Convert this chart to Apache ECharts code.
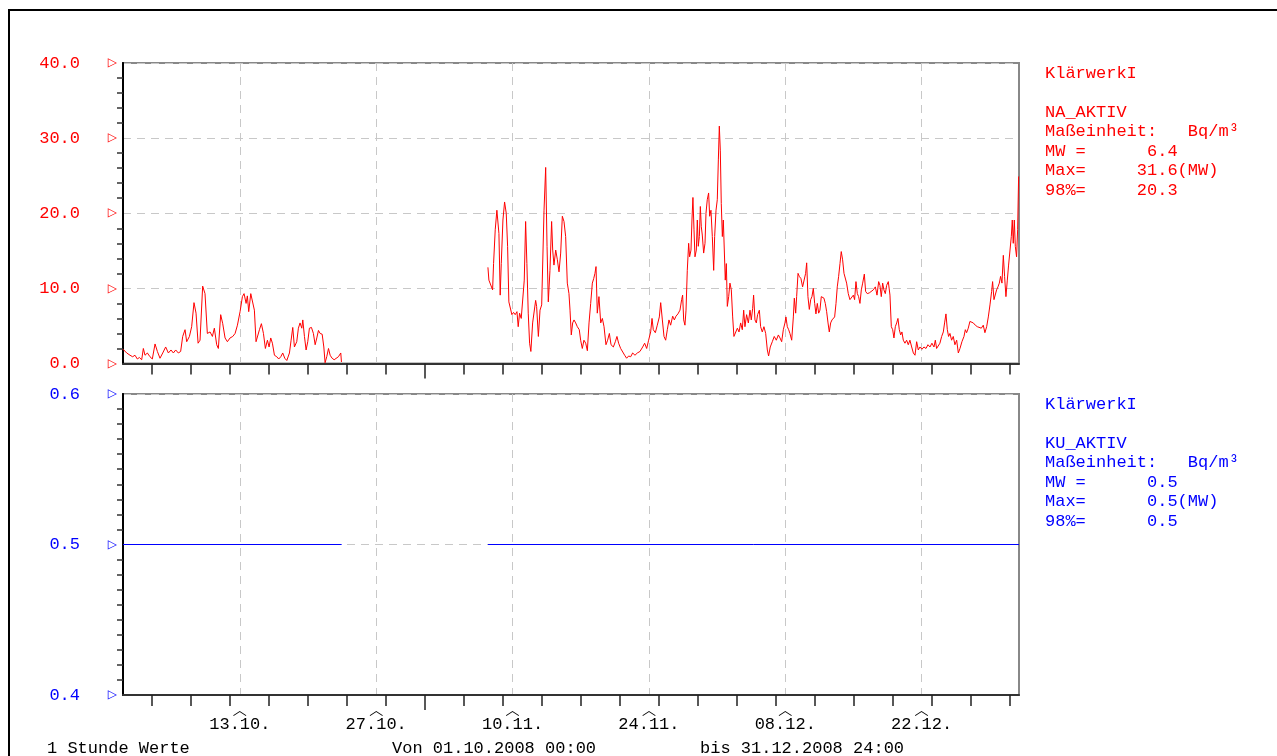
<!DOCTYPE html>
<html><head><meta charset="utf-8">
<script src="https://cdn.jsdelivr.net/npm/echarts@6/dist/echarts.min.js"></script>
<style>html,body{margin:0;padding:0;background:#fff}#c{width:1277px;height:756px}</style>
</head><body><div id="c"></div><script>
// NA_AKTIV hourly values (day offset from 01.10.2008 00:00, Bq/m³)
const naPart1 = [[0.00,1.9],[0.38,1.4],[0.72,1.1],[0.99,0.9],[1.23,1.1],[1.47,0.6],[1.68,0.8],[1.92,0.5],[2.09,2.0],[2.26,1.1],[2.50,1.4],[2.77,0.9],[3.01,0.6],[3.29,2.6],[3.53,1.6],[3.80,0.7],[4.08,1.4],[4.38,2.2],[4.66,1.4],[4.93,1.8],[5.17,1.4],[5.41,1.8],[5.68,1.4],[5.92,1.6],[6.13,3.6],[6.37,4.5],[6.54,2.9],[6.82,3.6],[7.05,4.9],[7.29,8.1],[7.50,6.7],[7.71,2.7],[7.91,3.1],[8.18,10.3],[8.42,9.3],[8.66,4.0],[8.94,4.2],[9.18,3.6],[9.38,4.7],[9.62,2.5],[9.79,2.0],[10.03,6.5],[10.24,5.3],[10.48,3.4],[10.72,2.9],[10.99,3.4],[11.27,3.6],[11.51,4.0],[11.75,5.1],[12.02,6.9],[12.26,8.9],[12.43,9.3],[12.64,8.0],[12.77,9.0],[12.91,6.9],[13.12,9.3],[13.32,9.1],[13.49,7.1],[13.66,2.9],[13.84,2.7],[14.01,4.5],[14.21,5.3],[14.42,4.0],[14.62,2.0],[14.83,3.1],[15.00,2.2],[15.17,3.4],[15.34,2.7],[15.55,1.1],[15.79,0.9],[15.99,0.6],[16.20,0.9],[16.40,1.4],[16.61,0.7],[16.82,0.4],[17.09,1.4],[17.26,3.1],[17.43,4.8],[17.60,2.2],[17.84,2.9],[18.01,4.7],[18.18,5.4],[18.36,4.7],[18.46,5.8],[18.63,3.6],[18.80,1.8],[18.97,2.9],[19.14,4.7],[19.35,4.8],[19.55,4.0],[19.73,2.5],[19.90,3.4],[20.07,4.4],[20.24,4.0],[20.45,3.9],[20.62,2.2],[20.75,0.1],[20.92,0.9],[21.10,2.0],[21.27,1.1],[21.47,0.7],[21.68,0.5],[21.88,0.6],[22.12,0.9],[22.36,1.4],[22.43,0.2]];
const naPart2 = [[37.47,12.8],[37.57,11.1],[37.77,10.9],[37.95,9.8],[38.05,13.3],[38.22,17.8],[38.39,20.4],[38.49,20.2],[38.60,17.3],[38.73,9.1],[38.84,13.3],[39.01,19.1],[39.18,21.5],[39.35,20.0],[39.49,15.6],[39.62,8.2],[39.76,8.0],[39.93,6.5],[40.10,6.8],[40.27,6.5],[40.45,6.9],[40.58,4.9],[40.72,6.7],[40.89,6.0],[41.06,5.8],[41.20,11.1],[41.34,18.9],[41.47,13.3],[41.61,6.7],[41.75,2.7],[41.88,1.6],
[42.06,5.4],[42.37,8.4],[42.47,7.6],[42.65,3.6],[42.82,7.1],[42.99,7.8],[43.09,8.0],[43.23,20.4],[43.40,26.1],[43.54,15.6],[43.67,8.2],[43.84,12.4],[44.01,18.9],[44.12,15.1],[44.25,13.1],[44.43,15.1],[44.60,13.8],[44.77,12.2],[44.94,14.7],[45.11,19.6],[45.28,18.9],[45.45,16.9],[45.62,10.7],[45.79,9.3],[45.90,7.1],[46.03,3.8],[46.17,5.4],[46.31,5.8],[46.48,5.4],[46.65,4.9],[46.85,4.5],[46.99,3.1],[47.16,2.0],[47.33,3.1],[47.51,2.7],[47.68,1.7],[47.85,5.4],[48.02,8.0],[48.19,10.7],[48.33,11.3],[48.46,12.0],[48.57,12.9],[48.70,6.7],[48.87,8.9],[49.05,5.4],[49.22,6.0],[49.39,4.9],[49.59,2.5],[49.76,3.1],[49.94,4.0],[50.11,2.5],[50.35,2.2],[50.55,2.9],[50.72,3.6],[50.89,2.7],[51.10,2.0],[51.30,1.8],[51.51,1.1],[51.71,0.7],[51.92,1.0],[52.13,0.9],[52.33,1.4],[52.57,1.1],[52.81,1.4],[53.08,1.6],[53.36,2.2],[53.56,2.7],[53.77,2.0],[53.97,3.1],[54.18,4.2],[54.32,6.0],[54.45,4.5],[54.66,4.1],[54.86,5.1],[55.07,6.2],[55.21,8.1],[55.38,5.8],[55.55,3.6],[55.72,3.1],[55.89,4.5],[56.06,5.8],[56.23,5.1],[56.44,6.3],[56.61,5.8],[56.78,6.3],[56.98,6.6],[57.19,7.1],[57.36,8.5],[57.46,9.1],[57.57,5.8],[57.70,5.1],[57.81,7.1],[57.94,12.4],[58.08,16.0],[58.18,14.2],[58.32,15.1],[58.42,19.1],[58.52,22.1],[58.63,17.8],[58.73,14.2],[58.87,15.1],[58.97,19.1],[59.07,15.6],[59.18,16.9],[59.28,20.9],[59.38,18.2],[59.48,17.1],[59.62,14.7],[59.76,16.0],[59.86,20.0],[59.99,21.8],[60.13,22.7],[60.24,19.6],[60.37,20.4],[60.51,16.9],[60.65,12.4],[60.75,16.9],[60.89,20.4],[61.02,21.8],[61.13,27.1],[61.23,31.6],[61.33,28.4],[61.43,21.3],[61.54,16.9],[61.64,19.1],[61.74,19.1],[61.84,11.1],[61.95,13.3],[62.05,7.6],[62.19,8.9],[62.32,10.7],[62.46,9.8],[62.60,6.2],[62.73,3.6],[62.91,3.4],[63.08,4.7],[63.25,4.2],[63.42,5.4],[63.59,4.5],[63.73,7.1],[63.86,4.9],[64.03,6.5],[64.21,5.4],[64.38,7.1],[64.51,5.8],[64.65,7.3],[64.75,9.1],[64.89,5.8],[65.03,5.4],[65.16,6.5],[65.34,7.1],[65.47,4.9],[65.64,4.2],[65.81,4.9],[65.99,4.0],[66.16,1.8],[66.29,1.0],[66.46,2.2],[66.67,2.9],[66.87,3.6],[67.08,3.1],[67.29,3.8],[67.46,3.4],[67.63,2.9],[67.80,4.5],[67.97,5.4],[68.07,6.2],[68.21,4.9],[68.35,4.5],[68.48,4.0],[68.66,3.1],[68.83,6.2],[68.93,8.7],[69.07,6.7],[69.17,8.9],[69.31,12.0],[69.44,11.6],[69.61,11.3],[69.78,10.2],[69.96,10.4],[70.09,12.0],[70.20,13.4],[70.33,8.9],[70.47,7.2],[70.61,8.5],[70.74,8.9],[70.88,10.0],[71.02,8.0],[71.15,6.6],[71.29,8.0],[71.43,6.7],[71.56,7.1],[71.70,8.9],[71.84,9.1],[71.97,8.7],[72.11,8.0],[72.25,6.9],[72.39,5.4],[72.52,4.2],[72.66,5.4],[72.80,5.8],[72.93,5.6],[73.07,6.2],[73.21,8.0],[73.34,10.2],[73.48,11.6],[73.62,13.3],[73.75,14.9],[73.89,13.8],[74.03,12.0],[74.16,12.0],[74.30,10.7],[74.47,9.3],[74.64,8.5],[74.81,8.7],[74.99,9.1],[75.12,8.5],[75.26,10.9],[75.40,9.3],[75.53,8.9],[75.67,8.0],[75.81,9.8],[75.95,10.7],[76.12,11.9],[76.25,9.6],[76.42,9.3],[76.63,9.4],[76.83,9.6],[77.04,9.8],[77.25,10.2],[77.42,9.1],[77.59,10.9],[77.72,10.4],[77.86,8.9],[78.00,10.7],[78.13,9.8],[78.27,9.3],[78.41,10.4],[78.58,10.9],[78.75,9.1],[78.89,4.9],[79.03,4.5],[79.16,3.4],[79.30,4.9],[79.44,5.4],[79.57,6.0],[79.71,4.5],[79.85,3.8],[79.98,4.2],[80.12,3.1],[80.29,2.7],[80.46,3.1],[80.63,2.5],[80.80,3.1],[80.98,2.2],[81.15,1.4],[81.32,1.1],[81.49,2.9],[81.66,1.8],[81.83,2.2],[82.04,1.9],[82.24,2.2],[82.45,2.0],[82.65,2.5],[82.86,2.2],[83.06,2.7],[83.27,2.2],[83.41,3.1],[83.54,2.0],[83.71,1.8],[83.88,2.7],[84.06,3.6],[84.23,4.2],[84.36,5.4],[84.50,6.6],[84.64,4.5],[84.77,3.6],[84.91,4.0],[85.08,3.1],[85.25,3.6],[85.42,2.5],[85.60,3.1],[85.77,1.4],[85.94,2.0],[86.14,2.9],[86.35,3.6],[86.49,4.5],[86.62,4.1],[86.79,4.7],[86.96,5.6],[87.14,5.4],[87.31,5.4],[87.51,5.1],[87.72,4.9],[87.92,5.0],[88.13,4.7],[88.33,5.1],[88.50,4.1],[88.68,4.9],[88.85,6.2],[89.02,7.8],[89.19,9.6],[89.29,10.9],[89.43,8.5],[89.57,8.7],[89.70,9.8],[89.84,10.2],[89.98,10.7],[90.11,11.6],[90.25,10.7],[90.39,14.4],[90.52,11.6],[90.66,8.9],[90.80,11.1],[90.93,13.1],[91.07,13.1],[91.21,16.9],[91.31,19.1],[91.41,16.0],[91.52,19.1],[91.62,15.6],[91.75,14.2],[91.86,17.8],[91.96,24.9]];
// KU_AKTIV (constant 0.5 where measured)
const kuPart1 = [[0,0.5],[22.45,0.5]];
const kuPart2 = [[37.47,0.5],[92,0.5]];
// axis definitions
const dayMax = 92;
const tickDays = [3,7,11,15,19,23,27,31,35,39,43,47,51,55,59,63,67,71,75,79,83,87,91];
const longTickDays = [31];
const labelDays = [12,26,40,54,68,82];
const labelTexts = ['13.10.','27.10.','10.11.','24.11.','08.12.','22.12.'];
const naAxis = {min:0, max:40, interval:10, minorSplit:5};
const kuAxis = {min:0.4, max:0.6, interval:0.1, minorSplit:10};
const naLegend = ['KlärwerkI','','NA_AKTIV','Maßeinheit:   Bq/m³','MW =      6.4','Max=     31.6(MW)','98%=     20.3'];
const kuLegend = ['KlärwerkI','','KU_AKTIV','Maßeinheit:   Bq/m³','MW =      0.5','Max=      0.5(MW)','98%=      0.5'];
const footer = ['1 Stunde Werte','Von 01.10.2008 00:00','bis 31.12.2008 24:00'];

const RED = '#ff0000', BLUE = '#0000ff';
const MONO = 'Liberation Mono';
const gridDash = {type:[8,6], color:'#c8c8c8', width:1};

function xAxesFor(g, withLabels) {
  const base = {type:'value', gridIndex:g, position:'bottom', min:0, max:dayMax, axisLabel:{show:false}, splitLine:{show:false}};
  const arr = [
    Object.assign({}, base, {axisLine:{show:true, lineStyle:{color:'#333', width:2}},
      axisTick:{show:true, customValues:tickDays, length:11, lineStyle:{color:'#222', width:1.5}}}),
    Object.assign({}, base, {axisLine:{show:false},
      axisTick:{show:true, customValues:longTickDays, length:15, lineStyle:{color:'#222', width:1.5}}}),
    Object.assign({}, base, {axisLine:{show:false},
      axisTick:{show:false, customValues:labelDays},
      splitLine:{show:true, lineStyle:gridDash},
      axisLabel: withLabels ? {show:true, customValues:labelDays, margin:21, color:'#000', fontFamily:MONO, fontSize:17,
        formatter: v => labelTexts[labelDays.indexOf(Math.round(v))] || ''} : {show:false}})
  ];
  if (withLabels) {
    arr.push(Object.assign({}, base, {axisLine:{show:false}, axisTick:{show:false, customValues:labelDays},
      axisLabel:{show:true, customValues:labelDays, margin:7, color:'#000', fontFamily:'Noto Sans CJK SC', fontSize:14,
        formatter: () => '︿'}}));
  }
  return arr;
}
function yAxesFor(g, a, color) {
  const base = {type:'value', gridIndex:g, min:a.min, max:a.max, interval:a.interval};
  return [
    Object.assign({}, base, {position:'left', axisLine:{show:true, lineStyle:{color:'#333', width:2}},
      axisTick:{show:false}, minorTick:{show:true, splitNumber:a.minorSplit, length:6, lineStyle:{color:'#333', width:1.5}},
      axisLabel:{margin:43, color:color, fontFamily:MONO, fontSize:17, formatter: v => v.toFixed(1)},
      splitLine:{show:true, lineStyle:gridDash}}),
    Object.assign({}, base, {position:'left', axisLine:{show:false}, axisTick:{show:false},
      axisLabel:{margin:6, color:color, fontFamily:'DejaVu Sans', fontSize:12, formatter: () => '▷'},
      splitLine:{show:false}}),
    Object.assign({}, base, {position:'right', axisLine:{show:true, lineStyle:{color:'#000', width:2}},
      axisTick:{show:false}, axisLabel:{show:false}, splitLine:{show:false}})
  ];
}
function textTitle(lines, left, top, color) {
  return {text: lines.join('\n'), left:left, top:top, padding:0,
    textStyle:{fontFamily:MONO, fontSize:17, fontWeight:'normal', color:color, lineHeight:19.5}};
}

const chart = echarts.init(document.getElementById('c'), null, {renderer:'canvas'});
chart.setOption({
  animation:false,
  backgroundColor:'#fff',
  grid:[
    {left:123, top:63, width:896, height:300.5, show:true, borderColor:'#888', borderWidth:2},
    {left:123, top:394, width:896, height:301, show:true, borderColor:'#888', borderWidth:2}
  ],
  xAxis: xAxesFor(0, false).concat(xAxesFor(1, true)),
  yAxis: yAxesFor(0, naAxis, RED).concat(yAxesFor(1, kuAxis, BLUE)),
  title:[
    textTitle(naLegend, 1045, 63.5, RED),
    textTitle(kuLegend, 1045, 394.5, BLUE),
    textTitle([footer[0]], 47, 739, '#000'),
    textTitle([footer[1]], 392, 739, '#000'),
    textTitle([footer[2]], 700, 739, '#000')
  ],
  graphic:[{type:'rect', shape:{x:9, y:10, width:1300, height:800}, style:{fill:null, stroke:'#000', lineWidth:2}, silent:true}],
  series:[
    {type:'line', xAxisIndex:0, yAxisIndex:0, showSymbol:false, symbol:'none', connectNulls:false, silent:true,
      lineStyle:{color:RED, width:1}, data: naPart1.concat([[30, null]], naPart2)},
    {type:'line', xAxisIndex:3, yAxisIndex:3, showSymbol:false, symbol:'none', connectNulls:false, silent:true,
      lineStyle:{color:BLUE, width:1}, data: kuPart1.concat([[30, null]], kuPart2)}
  ]
});
</script></body></html>
